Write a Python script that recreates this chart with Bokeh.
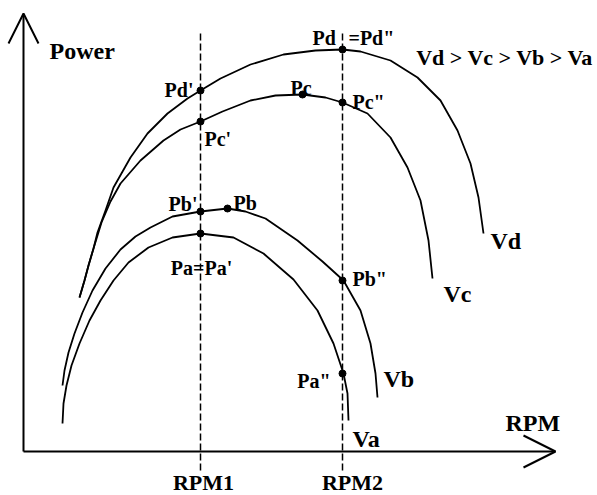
from bokeh.plotting import figure
from bokeh.models import Range1d, Label, Arrow, OpenHead
from bokeh.embed import file_html
from bokeh.resources import INLINE

# ---- data (arbitrary RPM / Power units) ----
rpm1 = 177
rpm2 = 319

vd_rpm = [56, 61, 65, 70, 74, 82, 90, 107, 124, 144, 164, 177, 197, 227, 260, 292, 319, 337, 367, 394, 417, 434, 447, 455, 460]
vd_pow = [154, 171, 186, 203, 219, 241, 264, 294, 318, 338, 353, 361, 373, 387, 397, 401, 402, 400, 391, 374, 351, 321, 288, 254, 218]

vc_rpm = [56, 61, 65, 70, 74, 78, 87, 97, 117, 140, 157, 177, 199, 227, 252, 279, 302, 319, 344, 367, 384, 397, 405, 409]
vc_pow = [154, 171, 186, 203, 216, 229, 250, 268, 291, 311, 322, 330, 340, 351, 356, 357, 354, 349, 338, 314, 284, 251, 211, 173]

vb_rpm = [39, 41, 45, 51, 59, 69, 82, 97, 112, 127, 149, 177, 204, 222, 242, 274, 299, 320, 337, 347, 352, 354]
vb_pow = [66, 81, 99, 118, 139, 161, 183, 202, 215, 224, 235, 240, 243, 240, 233, 211, 190, 171, 141, 108, 78, 54]

va_rpm = [39, 40, 43, 48, 56, 66, 77, 90, 105, 125, 149, 177, 210, 240, 270, 294, 310, 320, 324, 325]
va_pow = [28, 48, 66, 86, 108, 131, 151, 171, 189, 204, 214, 218, 214, 198, 172, 141, 108, 78, 58, 31]

pt_names = ["Pd'", "Pc'", "Pb'", "Pa", "Pb", "Pc", "Pd", "Pc\"", "Pb\"", "Pa\""]
pt_rpm = [177, 177, 177, 177, 204, 279, 319, 319, 319, 319]
pt_pow = [361, 330, 240, 218, 243, 357, 402, 349, 171, 78]

x_title = "RPM"
y_title = "Power"
tick_labels = ["RPM1", "RPM2"]
legend_text = "Vd > Vc > Vb > Va"
curve_names = ["Vd", "Vc", "Vb", "Va"]

# ---- figure ----
p = figure(width=597, height=495, x_range=Range1d(-23, 574), y_range=Range1d(-44, 451),
           output_backend="svg", toolbar_location=None,
           x_axis_location=None, y_axis_location=None, min_border=0)
p.grid.visible = False
p.outline_line_color = None
p.background_fill_color = "white"

# axes with open arrow heads
p.add_layout(Arrow(end=OpenHead(size=30, line_width=2, line_color="black"),
                   x_start=0, y_start=0, x_end=0, y_end=438, line_width=2, line_color="black"))
p.add_layout(Arrow(end=OpenHead(size=32, line_width=2, line_color="black"),
                   x_start=0, y_start=0, x_end=532, y_end=0, line_width=2, line_color="black"))

# dashed RPM lines
p.segment(x0=[rpm1, rpm2], y0=[-19, -19], x1=[rpm1, rpm2], y1=[421, 419],
          line_color="black", line_width=1.5, line_dash="7 3")

# curves
for xs, ys in [(vd_rpm, vd_pow), (vc_rpm, vc_pow), (vb_rpm, vb_pow), (va_rpm, va_pow)]:
    p.line(xs, ys, line_color="black", line_width=1.8, line_join="round")

p.scatter(pt_rpm, pt_pow, size=7, color="black")

FONT = "Liberation Serif"

def lab(text, x, y, size="20px", align="left"):
    p.add_layout(Label(x=x, y=y, text=text, text_font=FONT, text_font_style="bold",
                       text_font_size=size, text_align=align, text_baseline="alphabetic",
                       text_color="black"))

big = "24px"
lab(y_title, 26, 401, big)
lab(x_title, 482, 29, big)
lab(tick_labels[0], 180, -31, "22px", "center")
lab(tick_labels[1], 329, -31, "22px", "center")
lab(legend_text, 570, 394, "22px", "right")
lab(curve_names[0], 467, 211, big)
lab(curve_names[1], 420, 158, big)
lab(curve_names[2], 360, 73, big)
lab(curve_names[3], 329, 13, big)

lab("Pd'", 170, 362, align="right")
lab("Pc'", 181, 313)
lab("Pb'", 174, 248, align="right")
lab("Pb", 210, 249)
lab("Pa=Pa'", 178, 184, align="center")
lab("Pc", 267, 364)
lab("Pd", 289, 414)
lab("=Pd\"", 325, 414)
lab("Pc\"", 329, 350)
lab("Pb\"", 329, 173)
lab("Pa\"", 307, 71, align="right")

open("out.html", "w").write(file_html(p, INLINE))
